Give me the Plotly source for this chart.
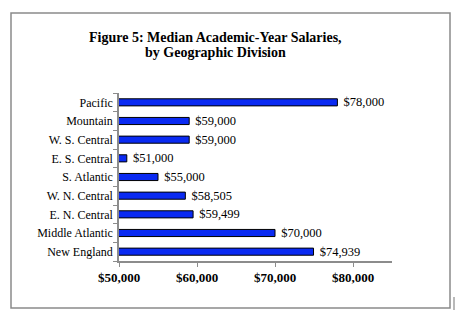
import plotly.graph_objects as go

categories = ["New England", "Middle Atlantic", "E. N. Central", "W. N. Central",
              "S. Atlantic", "E. S. Central", "W. S. Central", "Mountain", "Pacific"]
salaries = [74939, 70000, 59499, 58505, 55000, 51000, 59000, 59000, 78000]
x_ticks = [50000, 60000, 70000, 80000]
x_tick_labels = ["$50,000", "$60,000", "$70,000", "$80,000"]
title_lines = ["Figure 5: Median Academic-Year Salaries,", "by Geographic Division"]

labels = ["\u00a0${:,}".format(v) for v in salaries]

fig = go.Figure(go.Bar(
    y=categories, x=salaries, orientation="h",
    marker=dict(color="#0a2af2", line=dict(color="#000000", width=1)),
    text=labels, textposition="outside", textangle=0, constraintext="none",
    textfont=dict(family="Liberation Serif", size=12.5, color="#000000"),
    cliponaxis=True,
))

serif = "Liberation Serif"
W, H = 474, 326
L, R, T, B = 119, 82, 93, 65
pw, ph = W - L - R, H - T - B

def px(x):
    return (x - L) / pw

def py(y):
    return (H - B - y) / ph

fig.update_layout(
    width=W, height=H,
    margin=dict(l=L, r=R, t=T, b=B, pad=0),
    paper_bgcolor="white", plot_bgcolor="white",
    showlegend=False,
    bargap=0.62,
    xaxis=dict(range=[50000, 85000], tickvals=x_ticks, ticktext=x_tick_labels,
               showgrid=False, zeroline=False, showline=True, linecolor="#8c8c8c",
               linewidth=1.5, ticks="outside", ticklen=4, tickcolor="#8c8c8c",
               tickfont=dict(family=serif, size=13, color="#000000", weight="bold"),
               fixedrange=True),
    yaxis=dict(showgrid=False, zeroline=False, showline=True, linecolor="#8c8c8c",
               linewidth=1.5, ticks="outside", ticklen=4, tickcolor="#8c8c8c",
               tickson="boundaries", range=[-0.5, len(categories) - 0.5],
               tickfont=dict(family=serif, size=12, color="#000000"),
               ticklabelstandoff=2, fixedrange=True),
    shapes=[
        dict(type="rect", xref="paper", yref="paper",
             x0=px(11), x1=px(450), y0=py(308), y1=py(13),
             line=dict(color="#8a8a8a", width=1.5), fillcolor="rgba(0,0,0,0)"),
        dict(type="line", xref="paper", yref="paper",
             x0=px(454), x1=px(454), y0=py(297), y1=py(310),
             line=dict(color="#8a8a8a", width=1.2)),
    ],
    annotations=[
        dict(text=title_lines[0], xref="paper", yref="paper", x=px(215), y=py(37),
             xanchor="center", yanchor="middle", showarrow=False,
             font=dict(family=serif, size=14, color="#000000", weight="bold")),
        dict(text=title_lines[1], xref="paper", yref="paper", x=px(215), y=py(52),
             xanchor="center", yanchor="middle", showarrow=False,
             font=dict(family=serif, size=14, color="#000000", weight="bold")),
    ],
)

fig.write_html("out.html")
